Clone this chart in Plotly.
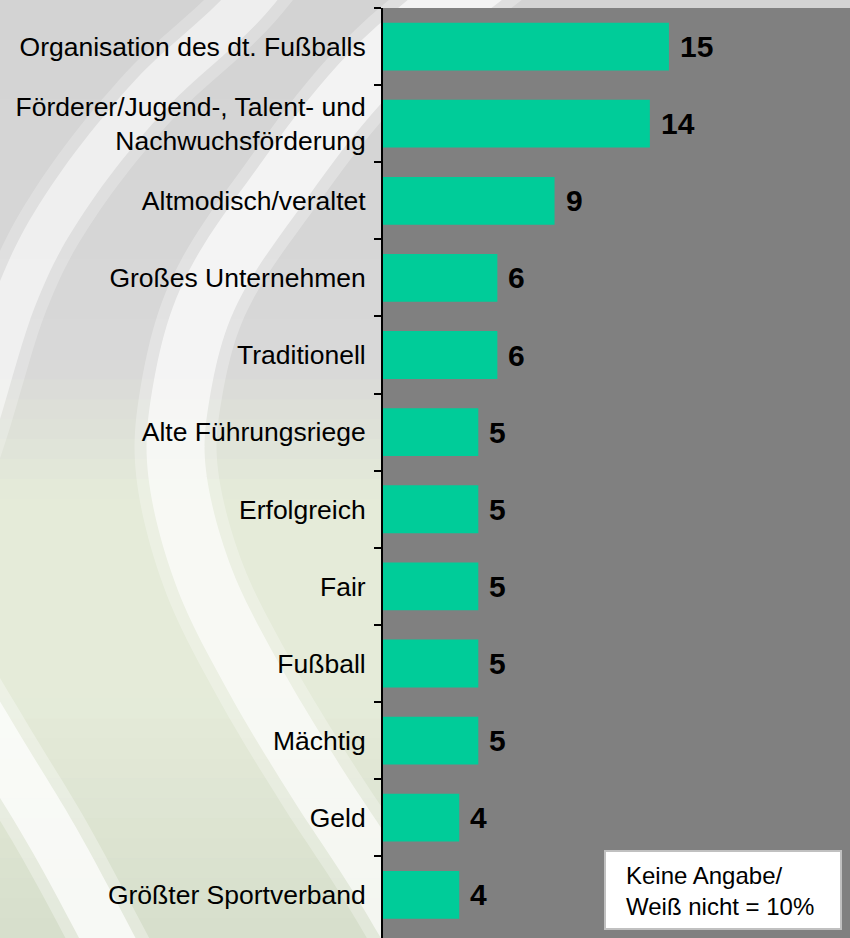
import plotly.graph_objects as go

categories = [
    "Organisation des dt. Fußballs",
    "Förderer/Jugend-, Talent- und<br>Nachwuchsförderung",
    "Altmodisch/veraltet",
    "Großes Unternehmen",
    "Traditionell",
    "Alte Führungsriege",
    "Erfolgreich",
    "Fair",
    "Fußball",
    "Mächtig",
    "Geld",
    "Größter Sportverband",
]
values = [15, 14, 9, 6, 6, 5, 5, 5, 5, 5, 4, 4]
note_text = "Keine Angabe/<br>Weiß nicht = 10%"

W, H = 850, 938
ML, MT = 383, 8
PW, PH = W - ML, H - MT
FONT = "Liberation Sans, Arial, sans-serif"

def py2paper(py):
    return 1 - (py - MT) / PH

def px2paper(px):
    return (px - ML) / PW

def lerp(c1, c2, t):
    return tuple(round(a + (b - a) * t) for a, b in zip(c1, c2))

def spline_path(pts, steps=12):
    # Catmull-Rom through pixel points -> svg path in paper coords
    P = [pts[0]] + pts + [pts[-1]]
    out = []
    for i in range(1, len(P) - 2):
        p0, p1, p2, p3 = P[i - 1], P[i], P[i + 1], P[i + 2]
        for s in range(steps):
            t = s / steps
            t2, t3 = t * t, t * t * t
            x = 0.5 * ((2 * p1[0]) + (-p0[0] + p2[0]) * t + (2 * p0[0] - 5 * p1[0] + 4 * p2[0] - p3[0]) * t2 + (-p0[0] + 3 * p1[0] - 3 * p2[0] + p3[0]) * t3)
            y = 0.5 * ((2 * p1[1]) + (-p0[1] + p2[1]) * t + (2 * p0[1] - 5 * p1[1] + 4 * p2[1] - p3[1]) * t2 + (-p0[1] + 3 * p1[1] - 3 * p2[1] + p3[1]) * t3)
            out.append((x, y))
    out.append(pts[-1])
    return "M " + " L ".join("%.5f,%.5f" % (px2paper(x), py2paper(y)) for x, y in out)

shapes = []
# background gradient strips (left panel)
stops = [(0, (211, 211, 211)), (360, (216, 216, 216)), (500, (229, 235, 217)),
         (700, (229, 235, 217)), (938, (214, 222, 203))]
N = 47
for i in range(N):
    y0p = H * i / N
    y1p = H * (i + 1) / N
    ym = (y0p + y1p) / 2
    for (a, ca), (b, cb) in zip(stops[:-1], stops[1:]):
        if a <= ym <= b:
            c = lerp(ca, cb, (ym - a) / (b - a))
            break
    shapes.append(dict(type="rect", xref="paper", yref="paper", layer="below",
                       x0=px2paper(0), x1=1, y0=py2paper(y1p + 0.5), y1=py2paper(y0p),
                       fillcolor="rgb(%d,%d,%d)" % c, line=dict(width=0)))

# decorative swooshes: (points, width, opacity) - ends kept off-canvas
swooshes = [
    ([(560, -80), (383, 60), (270, 200), (207, 300), (180, 400), (178, 480),
      (205, 580), (255, 680), (315, 780), (380, 880), (450, 1000)], 58, 0.62),
    ([(340, -120), (250, 0), (150, 95), (67, 200), (15, 300), (-40, 470), (-100, 560)], 42, 0.5),
    ([(-90, 600), (0, 750), (60, 850), (140, 1000)], 50, 0.7),
]
for pts, w, op in swooshes:
    path = spline_path(pts)
    shapes.append(dict(type="path", xref="paper", yref="paper", layer="below", path=path,
                       line=dict(color="rgba(255,255,255,%.2f)" % (op * 0.45), width=w + 24)))
    shapes.append(dict(type="path", xref="paper", yref="paper", layer="below", path=path,
                       line=dict(color="rgba(255,255,255,%.2f)" % op, width=w)))

# plot-area grey
shapes.append(dict(type="rect", xref="paper", yref="paper", layer="below",
                   x0=0, x1=1, y0=0, y1=1, fillcolor="#808080", line=dict(width=0)))

# note box
shapes.append(dict(type="rect", xref="paper", yref="paper", layer="above",
                   x0=px2paper(605), x1=px2paper(841), y0=py2paper(929), y1=py2paper(851),
                   fillcolor="white", line=dict(color="#c0c0c0", width=2)))

fig = go.Figure(go.Bar(
    x=values, y=categories, orientation="h",
    marker=dict(color="#00CC99", line=dict(width=0)),
    hoverinfo="skip",
))

annotations = []
for c, v in zip(categories, values):
    annotations.append(dict(x=v, y=c, xref="x", yref="y", text="<b>%d</b>" % v,
                            showarrow=False, xanchor="left", yanchor="middle", xshift=9,
                            font=dict(family=FONT, size=30, color="black")))
annotations.append(dict(x=px2paper(624), y=py2paper(891), xref="paper", yref="paper",
                        text=note_text, showarrow=False, xanchor="left", yanchor="middle",
                        align="left", font=dict(family=FONT, size=24, color="black")))

fig.update_layout(
    width=W, height=H,
    margin=dict(l=ML, r=0, t=MT, b=0, pad=0),
    paper_bgcolor="#d6d6d6",
    plot_bgcolor="rgba(0,0,0,0)",
    bargap=0.38,
    showlegend=False,
    shapes=shapes,
    annotations=annotations,
    xaxis=dict(range=[0, 24.5], visible=False, fixedrange=True),
    yaxis=dict(
        type="category", categoryorder="array", categoryarray=categories,
        range=[len(categories) - 0.44, -0.5],
        showline=True, linecolor="black", linewidth=2,
        ticks="outside", ticklen=7, tickwidth=2, tickcolor="black",
        tickson="boundaries", showgrid=False, zeroline=False,
        tickfont=dict(family=FONT, size=26.5, color="black"),
        ticklabelstandoff=10,
        fixedrange=True,
    ),
)

fig.write_html("out.html", config={"displayModeBar": False},
               post_script="document.body.style.margin='0';document.body.style.overflow='hidden';")
